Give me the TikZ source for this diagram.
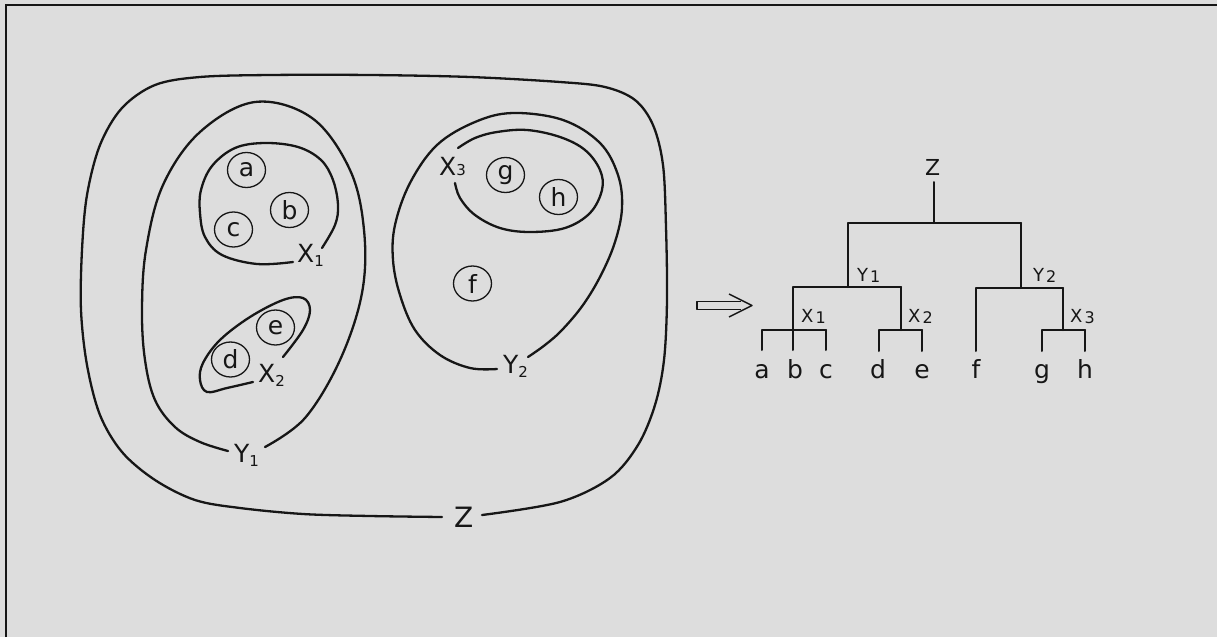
\documentclass[tikz,border=0pt]{standalone}
\usepackage{fontspec}
\setmainfont{DejaVu Sans}
\usetikzlibrary{shapes.geometric}
\definecolor{bg}{RGB}{221,221,221}
\definecolor{ink}{RGB}{22,22,22}
\newcommand{\lsub}[1]{\raisebox{-4pt}{\fontsize{15}{15}\selectfont #1}}
\newcommand{\tsub}[1]{\hspace{2pt}\raisebox{-1.5pt}{\fontsize{16}{16}\selectfont #1}}
\begin{document}
\begin{tikzpicture}[x=1pt,y=-1pt,
  outline/.style={draw=ink, line width=2.3pt, line cap=round, line join=round},
  elem/.style={draw=ink, ellipse, line width=1.3pt, minimum width=38pt, minimum height=35pt, inner sep=0pt, font=\fontsize{25}{25}\selectfont, text=ink},
  biglab/.style={anchor=base west, inner sep=0pt, font=\fontsize{25}{25}\selectfont, text=ink},
  treelab/.style={anchor=base west, inner sep=0pt, font=\fontsize{18}{18}\selectfont, text=ink},
  leaf/.style={anchor=base, inner sep=0pt, font=\fontsize{25}{25}\selectfont, text=ink},
  branch/.style={draw=ink, line width=2pt, line cap=round},
]
\useasboundingbox (0,0) rectangle (1217,637);
\fill[bg] (0,0) rectangle (1217,637);
\draw[ink, line width=2.5pt] (6,637) -- (6,5) -- (1217,5);

% ---------- left: nested sets ----------
% Z
\draw[outline] plot[smooth, tension=0.55] coordinates {
  (442,517) (370,516) (303,514) (240,508) (195,500) (155,480) (122,452)
  (100,415) (87,365) (81,310) (82,250) (87,195) (100,145) (122,108)
  (155,85) (200,77) (270,75) (370,75) (470,77) (560,82) (605,87)
  (635,100) (653,125) (663,165) (666,227) (667,300) (664,360)
  (655,405) (638,445) (610,478) (560,502) (482,515)};
\node[biglab, font=\fontsize{28}{28}\selectfont] (Zl) at (454,527) {Z};

% Y1
\draw[outline] plot[smooth, tension=0.6] coordinates {
  (228,451) (200,442) (175,427) (155,400) (145,360) (142,310) (146,250)
  (163,185) (200,132) (255,102) (312,118) (350,170) (364,230) (362,293)
  (340,360) (305,418) (265,447)};
\node[biglab] (Y1l) at (234,462) {Y\lsub{1}};

% X1
\draw[outline] plot[smooth, tension=0.6] coordinates {
  (322,248) (335,225) (338,205) (333,180) (321,160) (298,147) (265,143)
  (235,148) (212,166) (201,190) (200,213) (205,237) (222,255) (257,264) (293,262)};
\node[biglab] (X1l) at (297,262) {X\lsub{1}};
\node[elem] (ca) at (246.5,170) {a};
\node[elem] (cb) at (289.5,210) {b};
\node[elem] (cc) at (233.5,229.5) {c};

% X2
\draw[outline] plot[smooth, tension=0.6] coordinates {
  (253,382) (227,388) (207,392) (200,380) (203,363) (220,340) (250,317)
  (283,300) (303,298) (310,310) (303,330) (283,357)};
\node[biglab] (X2l) at (258,382) {X\lsub{2}};
\node[elem] (cd) at (230.5,359.5) {d};
\node[elem] (ce) at (275.5,327.5) {e};

% Y2
\draw[outline] plot[smooth, tension=0.6] coordinates {
  (497,369) (470,368) (440,355) (415,330) (400,295) (393,260) (395,225)
  (410,183) (437,145) (475,122) (513,113) (563,120) (600,143) (618,175)
  (622,208) (615,242) (601,275) (583,305) (562,330) (545,345) (528,357)};
\node[biglab] (Y2l) at (503,373) {Y\lsub{2}};

% X3
\draw[outline] plot[smooth, tension=0.6] coordinates {
  (458,148) (475,138) (497,132) (527,130) (560,137) (585,150) (600,170)
  (602,190) (590,213) (565,228) (530,232) (500,228) (475,215) (460,198) (455,183)};
\node[biglab] (X3l) at (439,175) {X\raisebox{0pt}{\fontsize{15}{15}\selectfont 3}};
\node[elem] (cg) at (505.5,175) {g};
\node[elem] (ch) at (558.5,197) {h};
\node[elem] (cf) at (472.5,283.5) {f};

% ---------- arrow ----------
\draw[ink, line width=1.3pt, line join=round]
  (741,301.5) -- (697,301.5) -- (697,309.5) -- (741,309.5);
\draw[ink, line width=1.4pt, line join=round]
  (729,294) -- (752,305.5) -- (729,317);

% ---------- right: tree ----------
\node[treelab, font=\fontsize{22}{22}\selectfont] (tZ) at (925,175) {Z};
\node[treelab] (tY1) at (857,281) {Y\tsub{1}};
\node[treelab] (tY2) at (1033,281) {Y\tsub{2}};
\node[treelab] (tX1) at (801,322) {X\tsub{1}};
\node[treelab] (tX2) at (908,322) {X\tsub{2}};
\node[treelab] (tX3) at (1070,322) {X\tsub{3}};

\node[leaf] (la) at (762,378) {a};
\node[leaf] (lb) at (795,378) {b};
\node[leaf] (lc) at (826,378) {c};
\node[leaf] (ld) at (878,378) {d};
\node[leaf] (le) at (922,378) {e};
\node[leaf] (lf) at (976,378) {f};
\node[leaf] (lg) at (1042,378) {g};
\node[leaf] (lh) at (1085,378) {h};

\coordinate (zt) at (934,182);
\coordinate (zb) at (934,223);
\coordinate (y1t) at (848,223);
\coordinate (y2t) at (1021,223);
\coordinate (y1b) at (848,287);
\coordinate (y2b) at (1021,288);
\coordinate (x1t) at (793,287);
\coordinate (x2t) at (901,287);
\coordinate (x2b) at (901,330);
\coordinate (ft) at (976,288);
\coordinate (x3t) at (1063,288);
\coordinate (x3b) at (1063,330);
\coordinate (abcL) at (762,330);
\coordinate (abcR) at (826,330);
\coordinate (deL) at (879,330);
\coordinate (deR) at (922,330);
\coordinate (ghL) at (1042,330);
\coordinate (ghR) at (1085,330);
\coordinate (aE) at (762,350);
\coordinate (bE) at (793,350);
\coordinate (cE) at (826,350);
\coordinate (dE) at (879,351);
\coordinate (eE) at (922,351);
\coordinate (fE) at (976,351);
\coordinate (gE) at (1042,351);
\coordinate (hE) at (1085,351);

\draw[branch] (zt) -- (zb);
\draw[branch] (y1t) -- (y2t);
\draw[branch] (y1t) -- (y1b);
\draw[branch] (y2t) -- (y2b);
\draw[branch] (x1t) -- (x2t);
\draw[branch] (x1t) -- (bE);
\draw[branch] (x2t) -- (x2b);
\draw[branch] (abcL) -- (abcR);
\draw[branch] (abcL) -- (aE);
\draw[branch] (abcR) -- (cE);
\draw[branch] (deL) -- (deR);
\draw[branch] (deL) -- (dE);
\draw[branch] (deR) -- (eE);
\draw[branch] (ft) -- (x3t);
\draw[branch] (ft) -- (fE);
\draw[branch] (x3t) -- (x3b);
\draw[branch] (ghL) -- (ghR);
\draw[branch] (ghL) -- (gE);
\draw[branch] (ghR) -- (hE);
\end{tikzpicture}
\end{document}
